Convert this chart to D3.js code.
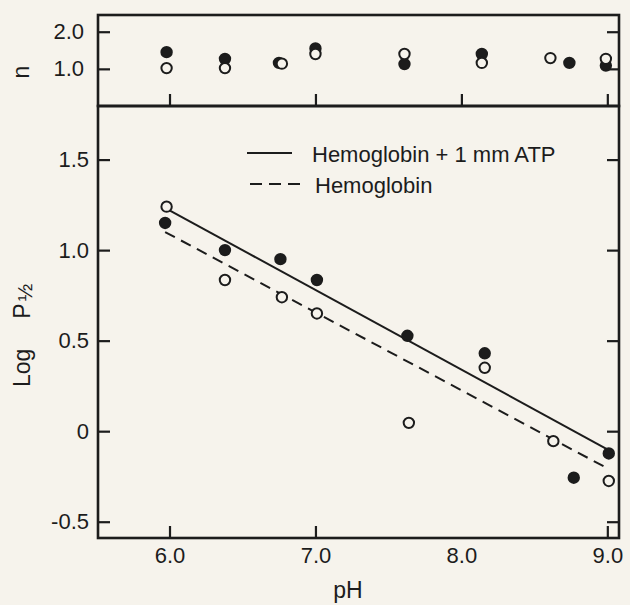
<!DOCTYPE html>
<html>
<head>
<meta charset="utf-8">
<script src="https://cdn.jsdelivr.net/npm/d3@7"></script>
<style>
body { margin: 0; background: #f6f3ec; }
svg { display: block; font-family: "Liberation Sans", Arial, sans-serif; }
</style>
</head>
<body>
<svg id="chart" width="630" height="605"></svg>
<script>
// log P1/2 against pH
var phAtp = [5.97, 6.38, 6.76, 7.01, 7.63, 8.16, 8.77, 9.01];
var logAtp = [1.15, 1.00, 0.95, 0.835, 0.527, 0.43, -0.257, -0.123];
var phHb = [5.98, 6.38, 6.77, 7.01, 7.64, 8.16, 8.63, 9.01];
var logHb = [1.24, 0.835, 0.74, 0.65, 0.046, 0.35, -0.055, -0.275];

// Hill coefficient n (top strip)
var phNAtp = [5.98, 6.38, 6.75, 7.0, 7.61, 8.14, 8.74, 8.99];
var nAtp = [1.45, 1.27, 1.16, 1.55, 1.13, 1.40, 1.16, 1.09];
var phNHb = [5.98, 6.38, 6.77, 7.0, 7.61, 8.14, 8.61, 8.99];
var nHb = [1.02, 1.02, 1.14, 1.40, 1.40, 1.16, 1.29, 1.27];

// fitted lines, end points
var fitAtp = [[6.0, 1.22], [9.0, -0.10]];
var fitHb = [[5.97, 1.10], [9.0, -0.205]];

var xTicks = [6, 7, 8, 9];
var xTickMarks = [6, 7, 9];
var nTicks = [1, 2];
var logTicks = [-0.5, 0, 0.5, 1.0, 1.5];

var legendItems = ["Hemoglobin + 1 mm ATP", "Hemoglobin"];

var ink = "#1c1c1c";
var bg = "#f6f3ec";
// plot edges (window.top is read-only, so no bare "top")
var plotLeft = 98, plotRight = 619, plotTop = 15, plotMid = 106, plotBottom = 538;

var svg = d3.select("#chart");
svg.append("rect").attr("width", 630).attr("height", 605).attr("fill", bg);

var x = d3.scaleLinear().domain([5.51, 9.08]).range([plotLeft, plotRight]);
var yN = d3.scaleLinear().domain([0, 2.45]).range([plotMid, plotTop]);
var yL = d3.scaleLinear().domain([-0.59, 1.796]).range([plotBottom, plotMid]);

function fmt(d) {
    return d === 0 ? "0" : d.toFixed(1);
}

function styleAxis(g) {
    g.select(".domain").remove();
    g.selectAll("line").attr("stroke", ink).attr("stroke-width", 2.2);
    g.selectAll("text")
        .attr("fill", ink)
        .style("font-size", "22px")
        .style("font-family", "'Liberation Sans', Arial, sans-serif");
}

// top strip: n
svg.append("g").attr("transform", "translate(" + plotLeft + ",0)")
    .call(d3.axisLeft(yN).tickValues(nTicks).tickSize(-12).tickPadding(14).tickFormat(fmt))
    .call(styleAxis);
svg.append("g").attr("transform", "translate(" + plotRight + ",0)")
    .call(d3.axisRight(yN).tickValues(nTicks).tickSize(-12).tickFormat(""))
    .call(styleAxis);
svg.append("g").attr("transform", "translate(0," + plotMid + ")")
    .call(d3.axisBottom(x).tickValues(xTicks).tickSize(-12).tickFormat(""))
    .call(styleAxis);

// main panel
svg.append("g").attr("transform", "translate(" + plotLeft + ",0)")
    .call(d3.axisLeft(yL).tickValues(logTicks).tickSize(-12).tickPadding(9).tickFormat(fmt))
    .call(styleAxis);
svg.append("g").attr("transform", "translate(" + plotRight + ",0)")
    .call(d3.axisRight(yL).tickValues(logTicks).tickSize(-12).tickFormat(""))
    .call(styleAxis);
svg.append("g").attr("transform", "translate(0," + plotBottom + ")")
    .call(d3.axisBottom(x).tickValues(xTicks).tickSize(0).tickPadding(9).tickFormat(fmt))
    .call(styleAxis);
svg.append("g").attr("transform", "translate(0," + plotBottom + ")")
    .call(d3.axisBottom(x).tickValues(xTickMarks).tickSize(-12).tickFormat(""))
    .call(styleAxis);

// frames
svg.append("rect")
    .attr("x", plotLeft).attr("y", plotTop)
    .attr("width", plotRight - plotLeft).attr("height", plotMid - plotTop)
    .attr("fill", "none").attr("stroke", ink).attr("stroke-width", 2.6);
svg.append("rect")
    .attr("x", plotLeft).attr("y", plotMid)
    .attr("width", plotRight - plotLeft).attr("height", plotBottom - plotMid)
    .attr("fill", "none").attr("stroke", ink).attr("stroke-width", 2.6);

// fitted lines
var line = d3.line()
    .x(function (d) { return x(d[0]); })
    .y(function (d) { return yL(d[1]); });
svg.append("path").attr("d", line(fitAtp))
    .attr("fill", "none").attr("stroke", ink).attr("stroke-width", 2);
svg.append("path").attr("d", line(fitHb))
    .attr("fill", "none").attr("stroke", ink).attr("stroke-width", 2)
    .attr("stroke-dasharray", "11,7");

function dots(xs, ys, yScale, filled) {
    svg.append("g").selectAll("circle")
        .data(xs.map(function (d, i) { return [d, ys[i]]; }))
        .enter().append("circle")
        .attr("cx", function (d) { return x(d[0]); })
        .attr("cy", function (d) { return yScale(d[1]); })
        .attr("r", 5.2)
        .attr("fill", filled ? ink : bg)
        .attr("stroke", ink)
        .attr("stroke-width", 2);
}
dots(phNAtp, nAtp, yN, true);
dots(phNHb, nHb, yN, false);
dots(phAtp, logAtp, yL, true);
dots(phHb, logHb, yL, false);

// legend
var legend = svg.append("g");
legend.append("line").attr("x1", 247).attr("x2", 292).attr("y1", 153).attr("y2", 153)
    .attr("stroke", ink).attr("stroke-width", 2);
legend.append("line").attr("x1", 250).attr("x2", 300).attr("y1", 184).attr("y2", 184)
    .attr("stroke", ink).attr("stroke-width", 2).attr("stroke-dasharray", "12,7");
legend.selectAll("text").data(legendItems).enter().append("text")
    .attr("x", function (d, i) { return i === 0 ? 312 : 315; })
    .attr("y", function (d, i) { return i === 0 ? 162 : 193; })
    .attr("fill", ink)
    .style("font-size", "22px")
    .text(function (d) { return d; });

// axis titles
svg.append("text")
    .attr("x", 348).attr("y", 598)
    .attr("text-anchor", "middle")
    .attr("fill", ink)
    .style("font-size", "23px")
    .text("pH");

svg.append("text")
    .attr("transform", "translate(29,72) rotate(-90)")
    .attr("text-anchor", "middle")
    .attr("fill", ink)
    .style("font-size", "23px")
    .text("n");

var ylab = svg.append("text")
    .attr("transform", "translate(30,387) rotate(-90)")
    .attr("fill", ink)
    .style("font-size", "23px");
ylab.append("tspan").text("Log");
ylab.append("tspan").attr("dx", 30).text("P");
ylab.append("tspan").attr("dx", 2).attr("dy", 2).style("font-size", "21px").text("½");
</script>
</body>
</html>
